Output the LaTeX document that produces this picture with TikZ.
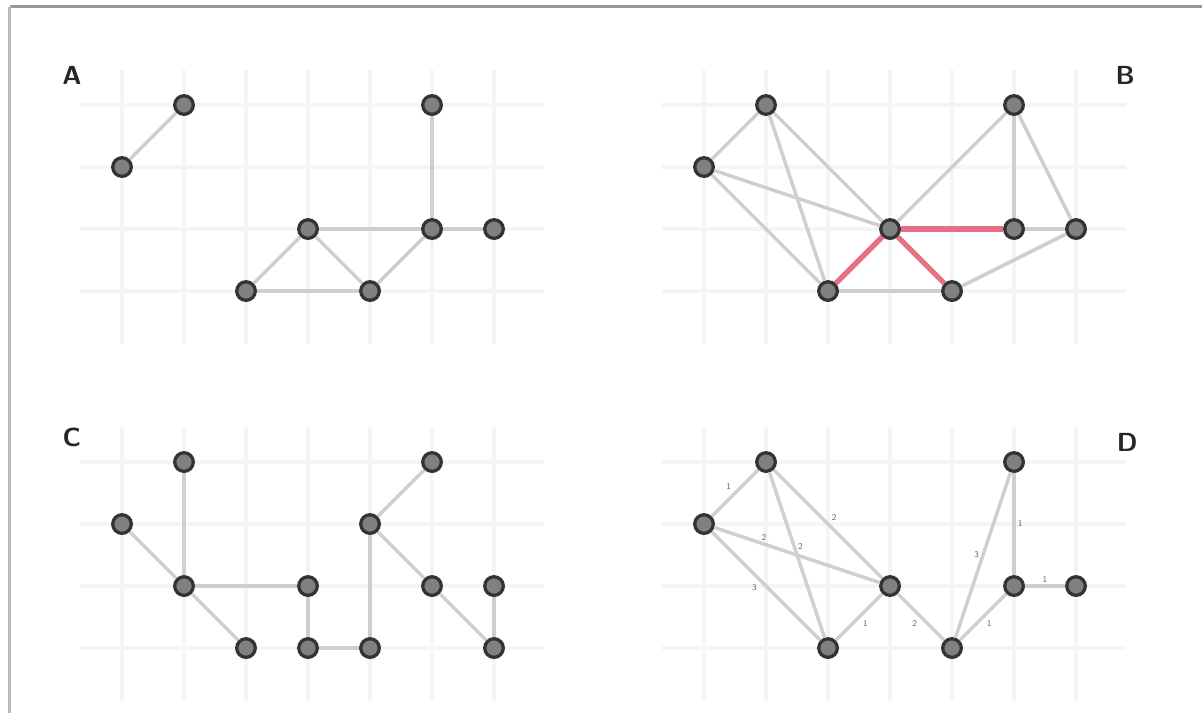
\documentclass[tikz,border=0pt]{standalone}
\usepackage{tikz}

\tikzset{
  vtx/.style={circle, draw=black!80, fill=black!50, line width=1.5pt, minimum size=0.3cm, inner sep=0pt},
  edg/.style={black!19, line width=1.6pt},
  hot/.style={color={rgb,255:red,232;green,110;blue,132}, line width=2.4pt},
  wt/.style={font=\fontsize{4}{4}\selectfont\sffamily, text=black!60, inner sep=1pt},
  gridln/.style={black!4, line width=2pt},
  panel/.style={font=\sffamily\bfseries\large, text=black!85}
}

\begin{document}
\begin{tikzpicture}

        \useasboundingbox (0,0) rectangle (19.387,-11.565);

        %Frame
        \draw [black!40, line width=1.4pt] (0.16,-0.11) -- (19.387,-0.11);
        \draw [black!27, line width=1.4pt] (0.16,-0.11) -- (0.16,-11.5);

        %Grids
        \foreach \sx/\sy in {1.968/-1.694, 11.355/-1.694, 1.968/-7.452, 11.355/-7.452}{
          \begin{scope}[shift={(\sx,\sy)}]
            \foreach \i in {0,...,6}
              \draw [gridln] (\i,0.56) -- (\i,-3.85);
            \foreach \j in {0,...,3}
              \draw [gridln] (-0.68,-\j) -- (6.8,-\j);
          \end{scope}
        }

        %Panel A
        \node [panel] (labA) at (1.16,-1.21) {A};
        \begin{scope}[shift={(1.968,-1.694)}]
          \node [vtx] (a10) at (1,0)  {};
          \node [vtx] (a50) at (5,0)  {};
          \node [vtx] (a01) at (0,-1) {};
          \node [vtx] (a32) at (3,-2) {};
          \node [vtx] (a52) at (5,-2) {};
          \node [vtx] (a62) at (6,-2) {};
          \node [vtx] (a23) at (2,-3) {};
          \node [vtx] (a43) at (4,-3) {};
          \draw [edg] (a01) -- (a10);
          \draw [edg] (a50) -- (a52);
          \draw [edg] (a32) -- (a52);
          \draw [edg] (a52) -- (a62);
          \draw [edg] (a32) -- (a23);
          \draw [edg] (a32) -- (a43);
          \draw [edg] (a23) -- (a43);
          \draw [edg] (a43) -- (a52);
        \end{scope}

        %Panel B
        \node [panel] (labB) at (18.15,-1.21) {B};
        \begin{scope}[shift={(11.355,-1.694)}]
          \node [vtx] (b10) at (1,0)  {};
          \node [vtx] (b50) at (5,0)  {};
          \node [vtx] (b01) at (0,-1) {};
          \node [vtx] (b32) at (3,-2) {};
          \node [vtx] (b52) at (5,-2) {};
          \node [vtx] (b62) at (6,-2) {};
          \node [vtx] (b23) at (2,-3) {};
          \node [vtx] (b43) at (4,-3) {};
          \draw [edg] (b01) -- (b10);
          \draw [edg] (b10) -- (b32);
          \draw [edg] (b10) -- (b23);
          \draw [edg] (b01) -- (b32);
          \draw [edg] (b01) -- (b23);
          \draw [edg] (b32) -- (b50);
          \draw [edg] (b50) -- (b52);
          \draw [edg] (b50) -- (b62);
          \draw [edg] (b52) -- (b62);
          \draw [edg] (b23) -- (b43);
          \draw [edg] (b43) -- (b62);
          \draw [hot] (b32) -- (b52);
          \draw [hot] (b32) -- (b23);
          \draw [hot] (b32) -- (b43);
        \end{scope}

        %Panel C
        \node [panel] (labC) at (1.16,-7.05) {C};
        \begin{scope}[shift={(1.968,-7.452)}]
          \node [vtx] (c10) at (1,0)  {};
          \node [vtx] (c50) at (5,0)  {};
          \node [vtx] (c01) at (0,-1) {};
          \node [vtx] (c41) at (4,-1) {};
          \node [vtx] (c12) at (1,-2) {};
          \node [vtx] (c32) at (3,-2) {};
          \node [vtx] (c52) at (5,-2) {};
          \node [vtx] (c62) at (6,-2) {};
          \node [vtx] (c23) at (2,-3) {};
          \node [vtx] (c33) at (3,-3) {};
          \node [vtx] (c43) at (4,-3) {};
          \node [vtx] (c63) at (6,-3) {};
          \draw [edg] (c10) -- (c12);
          \draw [edg] (c01) -- (c12);
          \draw [edg] (c12) -- (c32);
          \draw [edg] (c12) -- (c23);
          \draw [edg] (c32) -- (c33);
          \draw [edg] (c33) -- (c43);
          \draw [edg] (c43) -- (c41);
          \draw [edg] (c41) -- (c50);
          \draw [edg] (c41) -- (c52);
          \draw [edg] (c52) -- (c63);
          \draw [edg] (c62) -- (c63);
        \end{scope}

        %Panel D
        \node [panel] (labD) at (18.18,-7.13) {D};
        \begin{scope}[shift={(11.355,-7.452)}]
          \node [vtx] (d10) at (1,0)  {};
          \node [vtx] (d50) at (5,0)  {};
          \node [vtx] (d01) at (0,-1) {};
          \node [vtx] (d32) at (3,-2) {};
          \node [vtx] (d52) at (5,-2) {};
          \node [vtx] (d62) at (6,-2) {};
          \node [vtx] (d23) at (2,-3) {};
          \node [vtx] (d43) at (4,-3) {};
          \draw [edg] (d01) -- node [wt, above left]           {1} (d10);
          \draw [edg] (d10) -- node [wt, above right]          {2} (d32);
          \draw [edg] (d01) -- node [wt, above, pos=0.3]       {2} (d32);
          \draw [edg] (d01) -- node [wt, below left, pos=0.45] {3} (d23);
          \draw [edg] (d10) -- node [wt, right, pos=0.45]      {2} (d23);
          \draw [edg] (d23) -- node [wt, below right]          {1} (d32);
          \draw [edg] (d32) -- node [wt, below left]           {2} (d43);
          \draw [edg] (d43) -- node [wt, left]                 {3} (d50);
          \draw [edg] (d50) -- node [wt, right]                {1} (d52);
          \draw [edg] (d43) -- node [wt, below right]          {1} (d52);
          \draw [edg] (d52) -- node [wt, above]                {1} (d62);
        \end{scope}

\end{tikzpicture}
\end{document}
